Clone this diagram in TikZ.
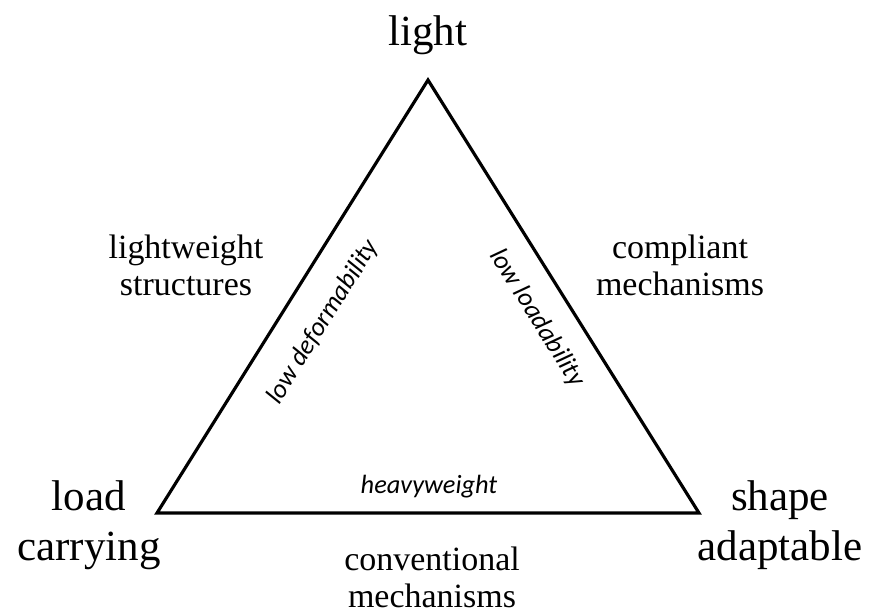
\documentclass[tikz,border=0pt]{standalone}
\usepackage{fontspec}
\setmainfont{Liberation Serif}
\newfontfamily\edgefont{Carlito}
\usepackage{tikz}
\usetikzlibrary{positioning, calc}

\begin{document}
\begin{tikzpicture}[x=0.03cm, y=-0.03cm,
        corner/.style={font=\fontsize{36.7}{42.7}\selectfont, align=center, inner sep=0pt},
        field/.style={font=\fontsize{29}{31.6}\selectfont, align=center, inner sep=0pt},
        edgelbl/.style={font=\edgefont\itshape\fontsize{22.5}{27}\selectfont, inner sep=0pt}]
        \useasboundingbox (0,0) rectangle (869,614);
        % vertices of the triangle
        \coordinate (top)   at (428, 80);
        \coordinate (left)  at (157, 513);
        \coordinate (right) at (699, 513);
        \draw[line width=2.7pt, line join=miter] (left) -- (top) -- (right) -- cycle;
        % corner labels
        \node[corner, anchor=base] (light) at (428, 45) {light};
        \node[corner] (load)  at (89, 525)  {load\\carrying};
        \node[corner] (shape) at (780, 525) {shape\\adaptable};
        % fields between the corners
        \node[field] (lightweight) at (186, 265) {lightweight\\structures};
        \node[field] (compliant)   at (680, 265) {compliant\\mechanisms};
        \node[field] (conventional) at (432, 577) {conventional\\mechanisms};
        % labels along the edges
        \node[edgelbl, rotate=58]  (lowdef)  at (323, 322) {low deformability};
        \node[edgelbl, rotate=-58] (lowload) at (537, 318) {low loadability};
        \node[edgelbl, anchor=base] (heavy) at (429, 493) {heavyweight};
\end{tikzpicture}
\end{document}
